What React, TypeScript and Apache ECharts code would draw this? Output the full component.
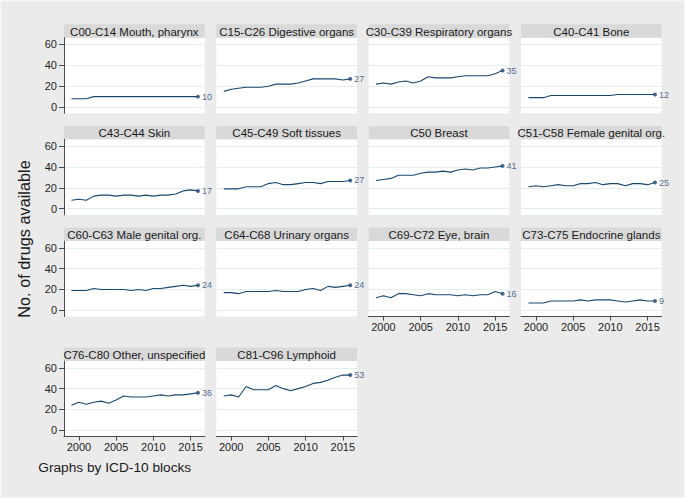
import React, { useEffect, useRef } from "react";
import * as echarts from "echarts";

// ---------- data ----------
const years = [1999, 2000, 2001, 2002, 2003, 2004, 2005, 2006, 2007, 2008, 2009, 2010, 2011, 2012, 2013, 2014, 2015, 2016];

const panelTitles = [
  "C00-C14 Mouth, pharynx",
  "C15-C26 Digestive organs",
  "C30-C39 Respiratory organs",
  "C40-C41 Bone",
  "C43-C44 Skin",
  "C45-C49 Soft tissues",
  "C50 Breast",
  "C51-C58 Female genital org.",
  "C60-C63 Male genital org.",
  "C64-C68 Urinary organs",
  "C69-C72 Eye, brain",
  "C73-C75 Endocrine glands",
  "C76-C80 Other, unspecified",
  "C81-C96 Lymphoid",
];

const mouthPharynx = [8, 8, 8, 10, 10, 10, 10, 10, 10, 10, 10, 10, 10, 10, 10, 10, 10, 10];
const digestive = [15, 17, 18, 19, 19, 19, 20, 22, 22, 22, 23, 25, 27, 27, 27, 27, 26, 27];
const respiratory = [22, 23, 22, 24, 25, 23, 25, 29, 28, 28, 28, 29, 30, 30, 30, 30, 32, 35];
const bone = [9, 9, 9, 11, 11, 11, 11, 11, 11, 11, 11, 11, 12, 12, 12, 12, 12, 12];
const skin = [8, 9, 8, 12, 13, 13, 12, 13, 13, 12, 13, 12, 13, 13, 14, 17, 18, 17];
const softTissues = [19, 19, 19, 21, 21, 21, 24, 25, 23, 23, 24, 25, 25, 24, 26, 26, 26, 27];
const breast = [27, 28, 29, 32, 32, 32, 34, 35, 35, 36, 35, 37, 38, 37, 39, 39, 40, 41];
const femaleGenital = [21, 22, 21, 22, 23, 22, 22, 24, 24, 25, 23, 24, 24, 22, 24, 24, 23, 25];
const maleGenital = [19, 19, 19, 21, 20, 20, 20, 20, 19, 20, 19, 21, 21, 22, 23, 24, 23, 24];
const urinary = [17, 17, 16, 18, 18, 18, 18, 19, 18, 18, 18, 20, 21, 19, 23, 22, 23, 24];
const eyeBrain = [12, 14, 12, 16, 16, 15, 14, 16, 15, 15, 15, 14, 15, 14, 15, 15, 18, 16];
const endocrine = [7, 7, 7, 9, 9, 9, 9, 10, 9, 10, 10, 10, 9, 8, 9, 10, 9, 9];
const otherUnspecified = [24, 27, 25, 27, 28, 26, 29, 33, 32, 32, 32, 33, 34, 33, 34, 34, 35, 36];
const lymphoid = [33, 34, 32, 42, 39, 39, 39, 43, 40, 38, 40, 42, 45, 46, 48, 51, 53, 53];

const panelValues = [
  mouthPharynx, digestive, respiratory, bone,
  skin, softTissues, breast, femaleGenital,
  maleGenital, urinary, eyeBrain, endocrine,
  otherUnspecified, lymphoid,
];

const xTickYears = [2000, 2005, 2010, 2015];
const yTickValues = [0, 20, 40, 60];

const yTitle = "No. of drugs available";
const footNote = "Graphs by ICD-10 blocks";

// ---------- layout / style ----------
const W = 685;
const H = 498;
const COL_LEFT = [64, 216.3, 368.6, 521];
const ROW_TOP = [24.3, 125.9, 227.6, 347.6];
const PANEL_W = 140.7;
const HEADER_H = 13.4;
const PLOT_H = 75.6;
const LINE_COLOR = "#1a476f";
const AXIS_COLOR = "#4a4a4a";
const FONT = "'Liberation Sans', Arial, Helvetica, sans-serif";

export default function App() {
  const ref = useRef<HTMLDivElement>(null);

  useEffect(() => {
    document.body.style.margin = "0";
    const chart = echarts.init(ref.current as HTMLDivElement, null, { renderer: "svg" });

    const grids: any[] = [];
    const xAxes: any[] = [];
    const yAxes: any[] = [];
    const series: any[] = [];
    const graphics: any[] = [
      {
        type: "rect",
        shape: { x: 0.75, y: 0.75, width: W - 1.5, height: H - 1.5 },
        style: { fill: "none", stroke: "#f6f6f6", lineWidth: 1.5 },
        silent: true,
      },
    ];

    panelTitles.forEach((title, i) => {
      const row = Math.floor(i / 4);
      const col = i % 4;
      const left = COL_LEFT[col];
      const top = ROW_TOP[row];
      const showX = i >= 10;
      const showY = col === 0;
      const vals = panelValues[i];

      grids.push({
        left,
        top: top + HEADER_H,
        width: PANEL_W,
        height: PLOT_H,
        show: true,
        backgroundColor: "#ffffff",
        borderWidth: 0,
      });

      xAxes.push({
        type: "value",
        gridIndex: i,
        min: 1998,
        max: 2016.9,
        axisLine: { show: showX, onZero: false, lineStyle: { color: AXIS_COLOR, width: 1 } },
        axisTick: { show: showX, length: 4, customValues: xTickYears, lineStyle: { color: AXIS_COLOR } },
        axisLabel: {
          show: showX,
          customValues: xTickYears,
          formatter: (v: number) => String(v),
          fontSize: 11,
          color: "#1e1e1e",
          margin: 5,
          fontFamily: FONT,
        },
        splitLine: { show: false },
      });

      yAxes.push({
        type: "value",
        gridIndex: i,
        min: -6,
        max: 66.5,
        axisLine: { show: showY, onZero: false, lineStyle: { color: AXIS_COLOR, width: 1 } },
        axisTick: { show: showY, length: 5, customValues: yTickValues, lineStyle: { color: AXIS_COLOR } },
        axisLabel: {
          show: showY,
          customValues: yTickValues,
          formatter: (v: number) => String(v),
          fontSize: 11,
          color: "#1e1e1e",
          margin: 7,
          fontFamily: FONT,
        },
        splitLine: { show: true, lineStyle: { color: "#e4edf0", width: 1 } },
      });

      series.push({
        type: "line",
        xAxisIndex: i,
        yAxisIndex: i,
        data: years.map((yr, k) => [yr, vals[k]]),
        symbol: "none",
        lineStyle: { color: LINE_COLOR, width: 1.1 },
        silent: true,
        z: 3,
      });

      const last = vals.length - 1;
      series.push({
        type: "scatter",
        xAxisIndex: i,
        yAxisIndex: i,
        data: [[years[last], vals[last]]],
        symbol: "circle",
        symbolSize: 4,
        itemStyle: { color: LINE_COLOR },
        silent: true,
        z: 4,
        label: {
          show: true,
          position: "right",
          distance: 2,
          formatter: (p: any) => String(p.value[1]),
          fontSize: 9,
          color: LINE_COLOR,
          fontFamily: FONT,
        },
      });

      graphics.push({
        type: "rect",
        shape: { x: left, y: top, width: PANEL_W, height: HEADER_H },
        style: { fill: "#d9d9d9" },
        silent: true,
      });
      graphics.push({
        type: "text",
        x: left + PANEL_W / 2,
        y: top + HEADER_H / 2 + 0.5,
        style: {
          text: title,
          fontSize: 11.5,
          fontFamily: FONT,
          fill: "#1a1a1a",
          align: "center",
          verticalAlign: "middle",
        },
        silent: true,
        z: 10,
      });
    });

    graphics.push({
      type: "text",
      x: 24,
      y: 239,
      rotation: Math.PI / 2,
      style: {
        text: yTitle,
        fontSize: 16.3,
        fontFamily: FONT,
        fill: "#1a1a1a",
        align: "center",
        verticalAlign: "middle",
      },
      silent: true,
    });
    graphics.push({
      type: "text",
      x: 38.3,
      y: 467.3,
      style: {
        text: footNote,
        fontSize: 13.7,
        fontFamily: FONT,
        fill: "#1a1a1a",
        align: "left",
        verticalAlign: "middle",
      },
      silent: true,
    });

    chart.setOption({
      animation: false,
      backgroundColor: "#ebebeb",
      grid: grids,
      xAxis: xAxes,
      yAxis: yAxes,
      series,
      graphic: graphics,
    });

    return () => {
      chart.dispose();
    };
  }, []);

  return <div ref={ref} style={{ width: W, height: H }} />;
}
